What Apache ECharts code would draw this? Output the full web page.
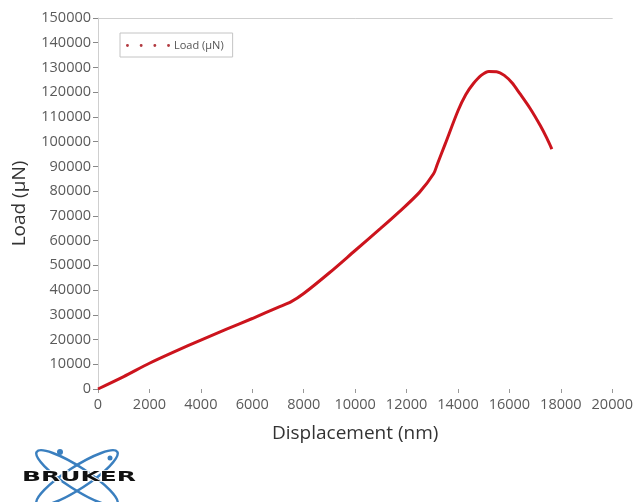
<!DOCTYPE html>
<html>
<head>
<meta charset="utf-8">
<script src="https://cdn.jsdelivr.net/npm/echarts@6/dist/echarts.min.js"></script>
<style>
  html, body { margin: 0; padding: 0; background: #fff; }
  #main { width: 636px; height: 502px; }
</style>
</head>
<body>
<div id="main"></div>
<script>
// displacement (nm) / load (uN)
var displacement = [0, 1000, 2000, 3000, 4000, 5000, 6000, 7000, 7500, 8000, 9000, 10000, 11000, 11700, 12500, 13050, 13200, 13500, 14000, 14300, 14600, 14900, 15200, 15500, 15800, 16100, 16400, 16800, 17200, 17450, 17650]
var load = [0, 5000, 10400, 15200, 19800, 24200, 28500, 33000, 35200, 38600, 47000, 56000, 65000, 71500, 79500, 87000, 91000, 99000, 112500, 119000, 123500, 126800, 128400, 128300, 126800, 123800, 119500, 113500, 106500, 101500, 97000]
var xTicks = { min: 0, max: 20000, step: 2000 }
var yTicks = { min: 0, max: 150000, step: 10000 }

var seriesData = []
for (var i in displacement) {
  seriesData.push([displacement[i], load[i]])
}

var red = '#cc141d'
var blue = '#3a7fbf'
var labelFont = { fontFamily: 'Open Sans', fontSize: 14.5, color: '#5a5a5a' }
var chart = echarts.init(document.getElementById('main'))

var option = {
  backgroundColor: '#fff',
  animation: false,
  grid: { left: 98, right: 21, top: 18, bottom: 113 },
  legend: {
    left: 120,
    top: 33,
    padding: [7, 9, 6, 6],
    borderColor: '#c4c4c4',
    borderWidth: 1,
    borderRadius: 0,
    itemWidth: 44,
    itemHeight: 3,
    itemGap: 4,
    icon: 'path://M0,1.5a1.5,1.5 0 1,0 3,0a1.5,1.5 0 1,0 -3,0M14,1.5a1.5,1.5 0 1,0 3,0a1.5,1.5 0 1,0 -3,0M28,1.5a1.5,1.5 0 1,0 3,0a1.5,1.5 0 1,0 -3,0M42,1.5a1.5,1.5 0 1,0 3,0a1.5,1.5 0 1,0 -3,0',
    textStyle: { fontFamily: 'Open Sans', fontSize: 11, color: '#555', padding: [0, 0, 0, -1] },
    data: [{ name: 'Load (µN)', itemStyle: { color: '#b23a40' } }]
  },
  xAxis: [{
    type: 'value',
    min: xTicks.min,
    max: xTicks.max,
    interval: xTicks.step,
    name: 'Displacement (nm)',
    nameLocation: 'middle',
    nameGap: 35,
    nameTextStyle: { fontFamily: 'Open Sans', fontSize: 19, color: '#333' },
    axisLine: { show: false },
    axisTick: { show: true, length: 4, lineStyle: { color: '#999' } },
    axisLabel: Object.assign({ margin: 8, formatter: function (v) { return String(v) } }, labelFont),
    splitLine: { show: false }
  }, {
    type: 'value',
    position: 'top',
    min: xTicks.min,
    max: xTicks.max,
    axisLine: { show: true, lineStyle: { color: '#cfcfcf', width: 1 } },
    axisTick: { show: false },
    axisLabel: { show: false },
    splitLine: { show: false }
  }],
  yAxis: {
    type: 'value',
    min: yTicks.min,
    max: yTicks.max,
    interval: yTicks.step,
    name: 'Load (µN)',
    nameLocation: 'middle',
    nameGap: 69,
    nameTextStyle: { fontFamily: 'Open Sans', fontSize: 19, color: '#333' },
    axisLine: { show: true, lineStyle: { color: '#cfcfcf', width: 1 } },
    axisTick: { show: true, length: 5, lineStyle: { color: '#888' } },
    axisLabel: Object.assign({ margin: 7, formatter: function (v) { return String(v) } }, labelFont),
    splitLine: { show: false }
  },
  series: [{
    name: 'Load (µN)',
    type: 'line',
    data: seriesData,
    smooth: 0.3,
    showSymbol: false,
    lineStyle: { color: red, width: 3 },
    itemStyle: { color: red }
  }],
  graphic: [
    {
      type: 'ellipse',
      shape: { cx: 0, cy: 0, rx: 48, ry: 11 },
      x: 77, y: 478, rotation: Math.PI * 33 / 180,
      style: { fill: 'none', stroke: blue, lineWidth: 2.5 }
    },
    {
      type: 'ellipse',
      shape: { cx: 0, cy: 0, rx: 48, ry: 11 },
      x: 77, y: 478, rotation: -Math.PI * 33 / 180,
      style: { fill: 'none', stroke: blue, lineWidth: 2.5 }
    },
    { type: 'circle', shape: { cx: 60, cy: 452, r: 3 }, style: { fill: blue } },
    { type: 'circle', shape: { cx: 110, cy: 458, r: 2.5 }, style: { fill: blue } },
    {
      type: 'text',
      x: 79, y: 477,
      scaleX: 1.72,
      style: {
        text: 'BRUKER',
        fontFamily: 'DejaVu Sans',
        fontWeight: 'bold',
        fontSize: 14.5,
        fill: '#111',
        align: 'center',
        verticalAlign: 'middle',
        stroke: '#fff',
        lineWidth: 1.5
      }
    }
  ]
}

chart.setOption(option)
</script>
</body>
</html>
